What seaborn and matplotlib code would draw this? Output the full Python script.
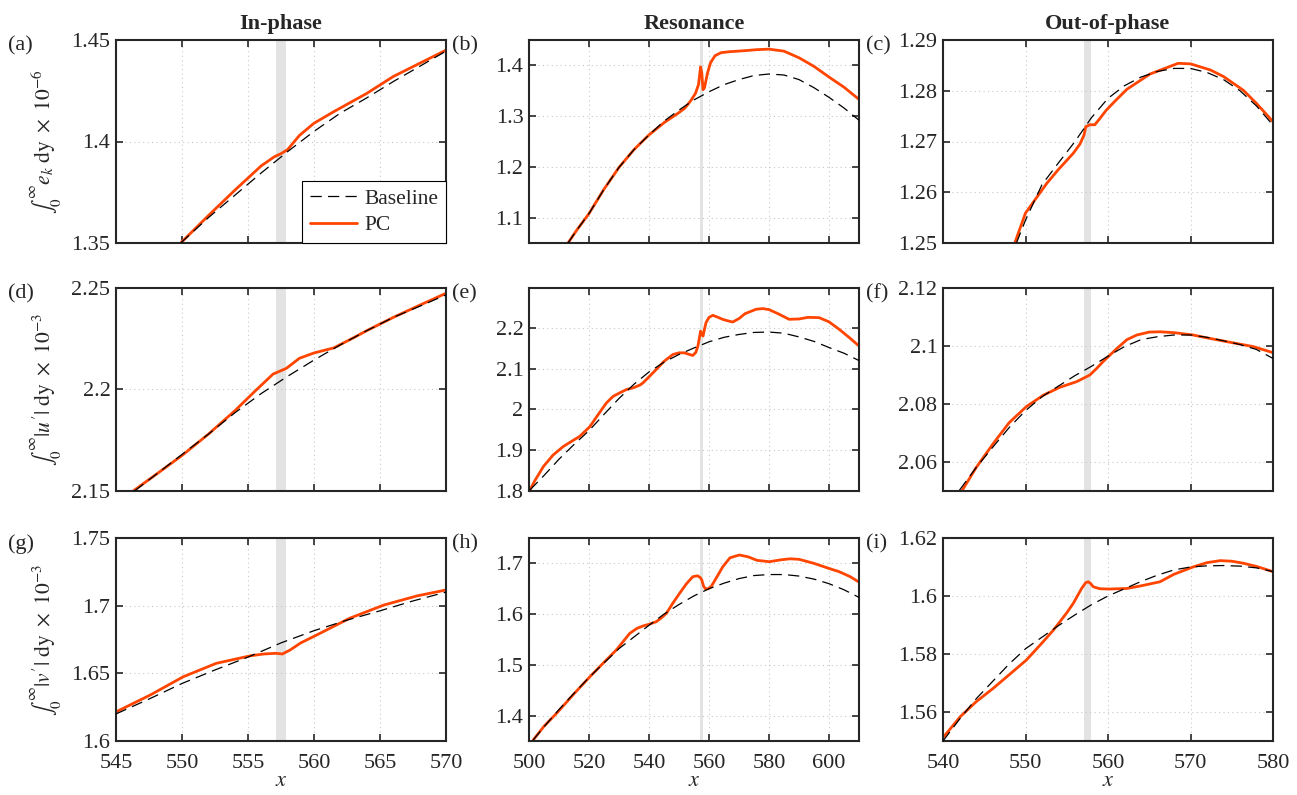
import numpy as np
import seaborn as sns
import matplotlib
matplotlib.use("Agg")
import matplotlib.pyplot as plt
from matplotlib.lines import Line2D
from matplotlib.ticker import FormatStrFormatter

# ---- DATA ----
# (a) in-phase, e_k
a_base_x = [549.9, 552, 554, 556, 558, 560, 562, 564, 566, 568, 570]
a_base_y = [1.3500, 1.3625, 1.3735, 1.3845, 1.3950, 1.4050, 1.4140, 1.4215, 1.4295, 1.4370, 1.4445]
a_pc_x = [549.9, 552, 554, 556, 557, 557.5, 558, 558.9, 560, 561.5, 562, 564, 566, 568, 570]
a_pc_y = [1.3500, 1.3635, 1.3760, 1.3880, 1.3925, 1.3940, 1.3960, 1.4030, 1.4090, 1.4147, 1.4165,
          1.4237, 1.4320, 1.4385, 1.4450]

# (b) resonance, e_k
b_base_x = [513, 516, 520, 525, 530, 535, 540, 545, 550, 555, 560, 565, 570, 575, 580, 585, 590, 595,
            600, 605, 610]
b_base_y = [1.050, 1.076, 1.108, 1.156, 1.199, 1.234, 1.263, 1.290, 1.312, 1.332, 1.348, 1.362, 1.372,
            1.380, 1.383, 1.381, 1.372, 1.356, 1.337, 1.316, 1.292]
b_pc_x = [513, 516, 520, 525, 530, 535, 540, 545, 550, 552, 554, 555.5, 556.5, 557.2, 557.6, 558.0,
          558.5, 559.5, 560.5, 562, 564, 567, 572, 576, 580, 585, 590, 595, 600, 605, 610]
b_pc_y = [1.050, 1.076, 1.108, 1.156, 1.199, 1.234, 1.263, 1.287, 1.307, 1.316, 1.331, 1.345, 1.362,
          1.397, 1.385, 1.352, 1.356, 1.385, 1.405, 1.419, 1.425, 1.427, 1.429, 1.431, 1.432, 1.428,
          1.415, 1.398, 1.377, 1.357, 1.333]

# (c) out-of-phase, e_k
c_base_x = [548.9, 550, 552, 554, 556, 558, 560, 562, 564, 566, 568, 570, 572, 574, 576, 578, 580]
c_base_y = [1.2500, 1.2545, 1.2615, 1.2658, 1.2700, 1.2747, 1.2785, 1.2810, 1.2827, 1.2838, 1.2844,
            1.2844, 1.2836, 1.2822, 1.2800, 1.2770, 1.2732]
c_pc_x = [548.7, 550, 552.6, 554, 555.8, 556.6, 557.1, 557.3, 557.8, 558.4, 559, 559.8, 561, 562.3,
          565.1, 568.5, 570, 572.4, 574, 576.4, 578, 580]
c_pc_y = [1.2500, 1.2559, 1.2618, 1.2645, 1.2677, 1.2695, 1.2713, 1.2729, 1.2733, 1.2733, 1.2745,
          1.2762, 1.2782, 1.2803, 1.2833, 1.2854, 1.2853, 1.2841, 1.2828, 1.2801, 1.2775, 1.2739]

# (d) in-phase, |u'|
d_base_x = [546.4, 548, 550, 552, 554, 556, 558, 560, 562, 564, 566, 568, 570]
d_base_y = [2.150, 2.158, 2.168, 2.178, 2.1885, 2.198, 2.2065, 2.2145, 2.222, 2.229, 2.2355, 2.241, 2.2466]
d_pc_x = [546.3, 548, 550, 552, 554, 555.5, 556.9, 557.9, 558.9, 560, 561.5, 563, 564, 566, 568, 570]
d_pc_y = [2.150, 2.158, 2.1675, 2.178, 2.1895, 2.199, 2.2076, 2.2104, 2.2154, 2.218, 2.2205, 2.2255,
          2.229, 2.2355, 2.2415, 2.2474]

# (e) resonance, |u'|
e_base_x = [500.3, 505, 510, 515, 520, 525, 530, 535, 540, 545, 550, 555, 560, 565, 570, 575, 580,
            585, 590, 595, 600, 605, 610]
e_base_y = [1.8025, 1.838, 1.878, 1.914, 1.948, 1.988, 2.027, 2.062, 2.092, 2.116, 2.135, 2.151, 2.166,
            2.177, 2.184, 2.189, 2.190, 2.187, 2.178, 2.167, 2.152, 2.138, 2.120]
e_pc_x = [500.3, 502, 504.8, 508, 511.4, 514, 516.9, 520.3, 523, 525.8, 528, 530.2, 532.5, 534.7, 537,
          538, 540, 542.4, 545, 548, 550, 551.8, 553, 554.6, 555.6, 556.3, 557.2, 557.6, 558.0, 558.5,
          559.0, 560, 561.3, 563, 564.6, 566, 567.9, 570, 572, 575.7, 577.9, 580, 583, 586.7, 590, 593,
          596.7, 600, 603.4, 607, 609.8]
e_pc_y = [1.8025, 1.826, 1.860, 1.888, 1.909, 1.921, 1.934, 1.958, 1.987, 2.016, 2.032, 2.0406, 2.049,
          2.053, 2.060, 2.0653, 2.080, 2.098, 2.118, 2.135, 2.139, 2.139, 2.136, 2.1325, 2.140, 2.1555,
          2.192, 2.185, 2.180, 2.197, 2.213, 2.226, 2.231, 2.226, 2.221, 2.218, 2.2145, 2.223, 2.235,
          2.2458, 2.2475, 2.245, 2.235, 2.2212, 2.222, 2.226, 2.2253, 2.215, 2.1966, 2.175, 2.157]

# (f) out-of-phase, |u'|
f_base_x = [542, 544, 546, 548, 550, 552, 554, 556, 558, 560, 562, 564, 566, 568, 570, 572, 574, 576,
            578, 580]
f_base_y = [2.0503, 2.058, 2.065, 2.0718, 2.0777, 2.0825, 2.0862, 2.0898, 2.093, 2.0965, 2.0998, 2.1022,
            2.1032, 2.1038, 2.1038, 2.103, 2.1018, 2.1005, 2.0988, 2.0957]
f_pc_x = [542.3, 544, 546.1, 548, 550.1, 552.2, 554.2, 556.2, 557.8, 558.6, 559.4, 561.1, 562.3, 563.5,
          565, 566.3, 568, 570.3, 572, 574.4, 577.6, 580]
f_pc_y = [2.0501, 2.058, 2.0664, 2.0735, 2.0791, 2.0831, 2.0858, 2.0877, 2.090, 2.0922, 2.0946, 2.0992,
          2.1022, 2.1038, 2.1048, 2.1049, 2.1046, 2.1038, 2.1028, 2.1015, 2.0998, 2.0977]

# (g) in-phase, |v'|
g_base_x = [545, 547.5, 550, 552.5, 555, 557.5, 560, 562.5, 565, 567.5, 570]
g_base_y = [1.620, 1.631, 1.6425, 1.6525, 1.662, 1.6725, 1.6815, 1.6893, 1.6962, 1.7035, 1.710]
g_pc_x = [545, 547.6, 550.1, 552.6, 555.2, 556.2, 557.1, 557.6, 558.2, 559, 560.2, 562.7, 565.3, 567.8, 570]
g_pc_y = [1.6215, 1.634, 1.6475, 1.6574, 1.663, 1.6643, 1.6648, 1.6643, 1.6673, 1.6725, 1.6783, 1.6907,
          1.7005, 1.7072, 1.7116]

# (h) resonance, |v'|
h_base_x = [501.4, 505, 510, 515, 520, 525, 530, 535, 540, 545, 550, 555, 560, 565, 570, 575, 580, 585,
            590, 595, 600, 605, 610]
h_base_y = [1.352, 1.378, 1.412, 1.444, 1.475, 1.504, 1.532, 1.555, 1.578, 1.600, 1.619, 1.636, 1.650,
            1.661, 1.670, 1.676, 1.678, 1.678, 1.675, 1.669, 1.660, 1.648, 1.633]
h_pc_x = [501.4, 505, 509.2, 515, 520.3, 525, 529.1, 533.6, 536, 538, 540, 542.4, 544, 545.8, 548, 550.2,
          552.5, 554.6, 556.2, 557.1, 557.6, 558.2, 558.8, 559.6, 560.7, 562.5, 564.6, 567, 570.1, 573,
          576, 580.1, 584, 587, 590, 595, 600, 603.4, 607, 609.8]
h_pc_y = [1.352, 1.379, 1.4046, 1.443, 1.4767, 1.505, 1.5293, 1.5622, 1.572, 1.5766, 1.580, 1.585, 1.592,
          1.6016, 1.622, 1.641, 1.660, 1.6738, 1.6755, 1.672, 1.6672, 1.655, 1.650, 1.650, 1.654, 1.672,
          1.6934, 1.711, 1.7165, 1.713, 1.706, 1.7033, 1.707, 1.709, 1.708, 1.700, 1.690, 1.6836, 1.674,
          1.6639]

# (i) out-of-phase, |v'|
i_base_x = [540, 542, 544, 546, 548, 550, 552, 554, 556, 558, 560, 562, 564, 566, 568, 570, 572, 574,
            576, 578, 580]
i_base_y = [1.5500, 1.5575, 1.5645, 1.5705, 1.5765, 1.5818, 1.5858, 1.5898, 1.5935, 1.5970, 1.6000,
            1.6025, 1.6050, 1.6072, 1.6090, 1.6100, 1.6104, 1.6105, 1.6103, 1.6097, 1.6084]
i_pc_x = [540.1, 542.1, 544, 546.1, 548, 550.1, 552, 553.4, 555, 555.8, 556.8, 557.3, 557.6, 557.9,
          558.2, 559, 560.2, 562.3, 564, 566.3, 568, 570.3, 572, 573.6, 575, 576.4, 578, 580]
i_pc_y = [1.5515, 1.5584, 1.5635, 1.5682, 1.5728, 1.5779, 1.5838, 1.5883, 1.5942, 1.5975, 1.6026, 1.6046,
          1.6049, 1.6043, 1.6032, 1.6025, 1.6024, 1.6026, 1.6035, 1.6049, 1.6075, 1.6100, 1.6115, 1.6122,
          1.6120, 1.6113, 1.6102, 1.6084]

col_titles = ["In-phase", "Resonance", "Out-of-phase"]
panel_labels = ["(a)", "(b)", "(c)", "(d)", "(e)", "(f)", "(g)", "(h)", "(i)"]
row_ylabels = [r"$\int_0^\infty e_k\ \mathrm{dy}\ \times\ 10^{-6}$",
               r"$\int_0^\infty |u'|\ \mathrm{dy}\ \times\ 10^{-3}$",
               r"$\int_0^\infty |v'|\ \mathrm{dy}\ \times\ 10^{-3}$"]

col_xlim = [(545, 570), (500, 610), (540, 580)]
col_xticks = [[545, 550, 555, 560, 565, 570],
              [500, 520, 540, 560, 580, 600],
              [540, 550, 560, 570, 580]]
panel_ylim = [(1.35, 1.45), (1.05, 1.45), (1.25, 1.29),
              (2.15, 2.25), (1.8, 2.298), (2.05, 2.12),
              (1.6, 1.75), (1.35, 1.75), (1.55, 1.62)]
panel_yticks = [[1.35, 1.4, 1.45], [1.1, 1.2, 1.3, 1.4], [1.25, 1.26, 1.27, 1.28, 1.29],
                [2.15, 2.2, 2.25], [1.8, 1.9, 2.0, 2.1, 2.2], [2.06, 2.08, 2.1, 2.12],
                [1.6, 1.65, 1.7, 1.75], [1.4, 1.5, 1.6, 1.7], [1.56, 1.58, 1.6, 1.62]]

band = (557.1, 557.9)

series = [(a_base_x, a_base_y, a_pc_x, a_pc_y), (b_base_x, b_base_y, b_pc_x, b_pc_y),
          (c_base_x, c_base_y, c_pc_x, c_pc_y), (d_base_x, d_base_y, d_pc_x, d_pc_y),
          (e_base_x, e_base_y, e_pc_x, e_pc_y), (f_base_x, f_base_y, f_pc_x, f_pc_y),
          (g_base_x, g_base_y, g_pc_x, g_pc_y), (h_base_x, h_base_y, h_pc_x, h_pc_y),
          (i_base_x, i_base_y, i_pc_x, i_pc_y)]

# ---- STYLE ----
sns.set_theme(style="ticks")
plt.rcParams["font.family"] = ["Liberation Serif", "DejaVu Serif"]
plt.rcParams["mathtext.fontset"] = "stix"
dark = "#262626"
plt.rcParams.update({"axes.edgecolor": dark, "xtick.color": dark, "ytick.color": dark,
                     "axes.labelcolor": dark, "text.color": dark})

pc_color = "#ff4500"
W, H = 1297, 795
fig = plt.figure(figsize=(W / 100, H / 100), dpi=100)

lefts = [116, 529, 943]
tops = [40, 288, 538]
aw, ah = 330, 203
lab_x = [8, 452, 866]

for k in range(9):
    r, c = divmod(k, 3)
    ax = fig.add_axes([lefts[c] / W, 1 - (tops[r] + ah) / H, aw / W, ah / H])
    bx, by, px, py = series[k]
    ax.axvspan(band[0], band[1], color="#e3e3e3", lw=0, zorder=0)
    sns.lineplot(x=bx, y=by, ax=ax, color="black", linewidth=0.9, linestyle=(0, (9, 5)),
                 errorbar=None, legend=False, zorder=3)
    sns.lineplot(x=px, y=py, ax=ax, color=pc_color, linewidth=2.0, errorbar=None,
                 legend=False, zorder=2)
    ax.set_xlim(col_xlim[c])
    ax.set_ylim(panel_ylim[k])
    ax.set_xticks(col_xticks[c])
    ax.set_yticks(panel_yticks[k])
    ax.yaxis.set_major_formatter(FormatStrFormatter("%g"))
    ax.grid(True, linestyle=(0, (1, 3)), color="#c8c8c8", linewidth=0.8)
    ax.tick_params(direction="in", top=True, right=True, length=5, width=1.2, labelsize=16)
    ax.tick_params(axis="y", pad=4)
    ax.tick_params(axis="x", pad=9)
    for s in ax.spines.values():
        s.set_linewidth(1.5)
        s.set_color(dark)
    if r < 2:
        ax.set_xticklabels([])
        ax.set_xlabel("")
    else:
        ax.set_xlabel(r"$x$", fontsize=16, labelpad=0)
    if c == 0:
        ax.set_ylabel(row_ylabels[r], fontsize=15.5)
        ax.yaxis.set_label_coords(-0.16, 0.5)
    else:
        ax.set_ylabel("")
    if r == 0:
        ax.set_title(col_titles[c], fontsize=16, fontweight="bold", pad=8)
    fig.text(lab_x[c] / W, 1 - (tops[r] + 6) / H, panel_labels[k], fontsize=16, va="center")
    if k == 0:
        handles = [Line2D([], [], color="black", linewidth=0.9, linestyle=(0, (9, 5))),
                   Line2D([], [], color=pc_color, linewidth=2.0)]
        leg = ax.legend(handles, ["Baseline", "PC"], loc="lower right", borderaxespad=0,
                        fontsize=15.5, frameon=True, fancybox=False, handlelength=2.2,
                        handletextpad=0.35, borderpad=0.35, labelspacing=0.3)
        leg.get_frame().set_edgecolor("black")
        leg.get_frame().set_linewidth(0.8)
        leg.get_frame().set_alpha(1)

fig.savefig("out.png", dpi=100)
